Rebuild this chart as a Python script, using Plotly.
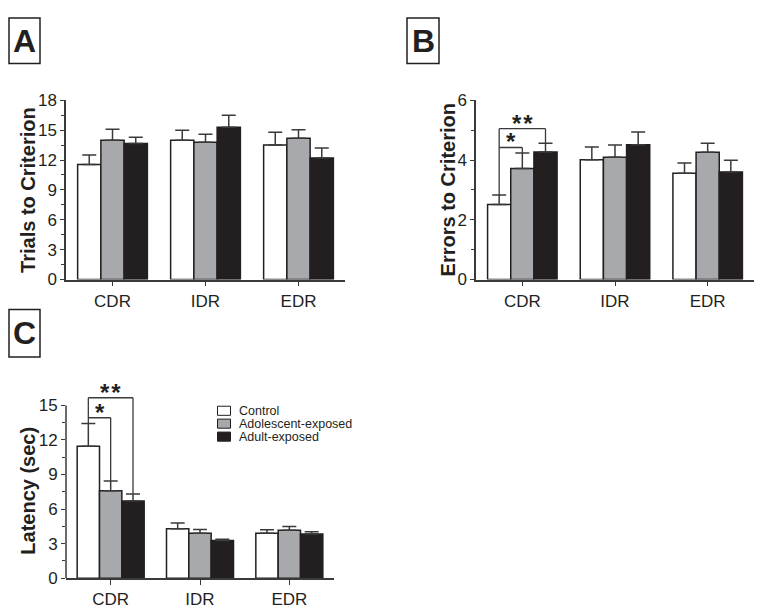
import plotly.graph_objects as go

# ---------------- data ----------------
categories = ["CDR", "IDR", "EDR"]
groups = ["Control", "Adolescent-exposed", "Adult-exposed"]

# Panel A: Trials to Criterion (mean, SEM)
trials_control = [11.55, 14.0, 13.5]
trials_adolescent = [14.0, 13.8, 14.2]
trials_adult = [13.65, 15.3, 12.2]
trials_control_sem = [0.95, 1.0, 1.3]
trials_adolescent_sem = [1.1, 0.8, 0.85]
trials_adult_sem = [0.65, 1.2, 1.0]

# Panel B: Errors to Criterion
errors_control = [2.51, 4.01, 3.56]
errors_adolescent = [3.72, 4.09, 4.26]
errors_adult = [4.27, 4.51, 3.60]
errors_control_sem = [0.32, 0.43, 0.34]
errors_adolescent_sem = [0.52, 0.41, 0.30]
errors_adult_sem = [0.29, 0.43, 0.39]

# Panel C: Latency (sec)
latency_control = [11.45, 4.3, 3.9]
latency_adolescent = [7.6, 3.9, 4.17]
latency_adult = [6.7, 3.28, 3.84]
latency_control_sem = [1.98, 0.49, 0.30]
latency_adolescent_sem = [0.84, 0.33, 0.31]
latency_adult_sem = [0.60, 0.11, 0.20]

# significance bracket levels (data units) for CDR: [* level, ** level]
errors_bracket_levels = [4.42, 5.05]
latency_bracket_levels = [13.93, 15.67]

# ---------------- style ----------------
FONT = "Liberation Sans, Arial, sans-serif"
DARK = "#231f20"
AXC = "#3a3a3a"
fills = ["#ffffff", "#a7a9ac", "#231f20"]
BARGAP = 0.25
PAGE_W, PAGE_H = 762, 615
OFF = 8  # default page body margin
W, H = PAGE_W - OFF, PAGE_H - OFF

fig = go.Figure()

panels = [
    dict(xa="x", ya="y",
         means=[trials_control, trials_adolescent, trials_adult],
         sems=[trials_control_sem, trials_adolescent_sem, trials_adult_sem]),
    dict(xa="x2", ya="y2",
         means=[errors_control, errors_adolescent, errors_adult],
         sems=[errors_control_sem, errors_adolescent_sem, errors_adult_sem]),
    dict(xa="x3", ya="y3",
         means=[latency_control, latency_adolescent, latency_adult],
         sems=[latency_control_sem, latency_adolescent_sem, latency_adult_sem]),
]

for p in panels:
    for i, g in enumerate(groups):
        fig.add_trace(go.Bar(
            x=categories, y=p["means"][i], name=g, showlegend=False,
            xaxis=p["xa"], yaxis=p["ya"], offsetgroup=str(i),
            marker=dict(color=fills[i], line=dict(color=DARK, width=1.5)),
            error_y=dict(type="data", symmetric=False, array=p["sems"][i],
                         arrayminus=[0] * len(categories),
                         color=AXC, thickness=1.5, width=7),
        ))


def px_x(v):
    return (v - OFF) / W


def px_y(v):
    return 1 - (v - OFF) / H


tickfont = dict(family=FONT, size=17, color=DARK)


def xaxis_cfg(x0, x1, anchor):
    return dict(domain=[px_x(x0), px_x(x1)], anchor=anchor, showline=True,
                linecolor=AXC, linewidth=1.5, ticks="outside", ticklen=5,
                tickwidth=1.3, tickcolor=AXC, tickfont=tickfont,
                showgrid=False, zeroline=False, fixedrange=True)


def yaxis_cfg(y_top, y_bot, anchor, rng, dtick, minor, showline=True):
    return dict(domain=[px_y(y_bot), px_y(y_top)], anchor=anchor, range=rng,
                showline=showline, linecolor=AXC, linewidth=1.5,
                ticks="outside", ticklen=4, tickwidth=1.3, tickcolor=AXC,
                tick0=0, dtick=dtick, tickfont=tickfont, showgrid=False,
                zeroline=False,
                minor=dict(dtick=minor, tick0=0, ticks="outside", ticklen=3,
                           tickwidth=1.2, tickcolor=AXC, showgrid=False))


# C panel: top of range is 16 so brackets fit; y=15 maps to pixel 409
c_bot, c15 = 587.3, 409.0
c_top = c_bot - (c_bot - c15) * 16 / 15

fig.update_layout(
    width=W, height=H, autosize=False,
    margin=dict(l=0, r=0, t=0, b=0),
    paper_bgcolor="white", plot_bgcolor="white",
    barmode="group", bargap=BARGAP, bargroupgap=0,
    font=dict(family=FONT, color=DARK),
    xaxis=xaxis_cfg(66, 345, "y"),
    yaxis=yaxis_cfg(94, 279, "x", [0, 18], 3, 1.5),
    xaxis2=xaxis_cfg(476, 754, "y2"),
    yaxis2=yaxis_cfg(94, 279, "x2", [0, 6], 2, 1),
    xaxis3=xaxis_cfg(66, 334, "y3"),
    yaxis3=yaxis_cfg(c_top, c_bot, "x3", [0, 16], 3, 1.5, showline=False),
)

shapes = []
annotations = []

# manual y-axis line for panel C (stops at 15)
shapes.append(dict(type="line", xref="x3 domain", yref="y3", x0=0, x1=0,
                   y0=0, y1=15, line=dict(color=AXC, width=1.5)))

# axis titles
for txt, xp, yp in [("Trials to Criterion", 28, 186.5),
                    ("Errors to Criterion", 447.5, 186.5),
                    ("Latency (sec)", 28, 497)]:
    annotations.append(dict(text="<b>%s</b>" % txt, xref="paper", yref="paper",
                            x=px_x(xp), y=px_y(yp), textangle=-90,
                            showarrow=False, xanchor="center", yanchor="middle",
                            font=dict(family=FONT, size=20, color=DARK)))

# panel letter boxes
for letter, x0, x1, y0, y1 in [("A", 7, 40, 7, 56), ("B", 407, 439, 8, 56),
                               ("C", 7, 40, 310, 359)]:
    x0 = max(x0, OFF + 1)
    y0 = max(y0, OFF + 1)
    shapes.append(dict(type="rect", xref="paper", yref="paper",
                       x0=px_x(x0), x1=px_x(x1), y0=px_y(y1), y1=px_y(y0),
                       line=dict(color=DARK, width=1.5), fillcolor="white"))
    annotations.append(dict(text="<b>%s</b>" % letter, xref="paper", yref="paper",
                            x=px_x((x0 + x1) / 2), y=px_y((y0 + y1) / 2),
                            showarrow=False, xanchor="center", yanchor="middle",
                            font=dict(family=FONT, size=32, color=DARK)))

# legend (manual)
leg_rows = [414.5, 427.8, 441.2]
for i, g in enumerate(groups):
    yc = leg_rows[i]
    shapes.append(dict(type="rect", xref="paper", yref="paper",
                       x0=px_x(217.5), x1=px_x(230.5), y0=px_y(yc + 4.7), y1=px_y(yc - 4.7),
                       line=dict(color=DARK, width=1), fillcolor=fills[i]))
    annotations.append(dict(text=g, xref="paper", yref="paper",
                            x=px_x(237), y=px_y(yc), showarrow=False,
                            xanchor="left", yanchor="middle",
                            font=dict(family=FONT, size=12.5, color=DARK)))

# significance brackets (CDR: control vs adolescent *, control vs adult **)
grp_w = (1 - BARGAP) / len(groups)
offs = [(i - (len(groups) - 1) / 2) * grp_w for i in range(len(groups))]
for (xa, ya, means, sems, levels) in [
        ("x2", "y2", panels[1]["means"], panels[1]["sems"], errors_bracket_levels),
        ("x3", "y3", panels[2]["means"], panels[2]["sems"], latency_bracket_levels)]:
    cat = 0
    tops = [means[i][cat] + sems[i][cat] for i in range(3)]
    xs = [cat + o for o in offs]
    ln = dict(color=AXC, width=1.3)
    shapes.append(dict(type="line", xref=xa, yref=ya, x0=xs[0], x1=xs[0],
                       y0=tops[0], y1=levels[1], line=ln))
    for k, (j, star) in enumerate([(1, "*"), (2, "*\u200a*")]):
        lv = levels[k]
        shapes.append(dict(type="line", xref=xa, yref=ya, x0=xs[0], x1=xs[j],
                           y0=lv, y1=lv, line=ln))
        shapes.append(dict(type="line", xref=xa, yref=ya, x0=xs[j], x1=xs[j],
                           y0=lv, y1=tops[j], line=ln))
        annotations.append(dict(text="<b>%s</b>" % star, xref=xa, yref=ya,
                                x=(xs[0] + xs[j]) / 2, y=lv, showarrow=False,
                                xanchor="center", yanchor="bottom", yshift=-10,
                                font=dict(family=FONT, size=24, color=DARK)))

fig.update_layout(shapes=shapes, annotations=annotations)
fig.write_html("out.html")
